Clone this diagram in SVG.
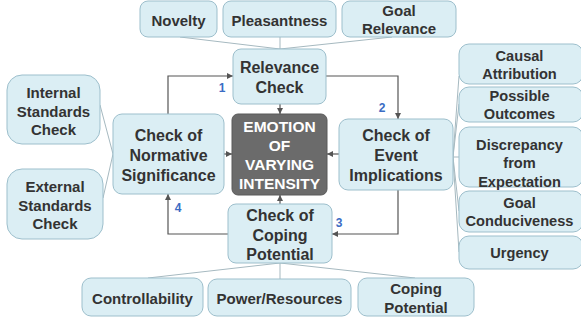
<svg xmlns="http://www.w3.org/2000/svg" width="581" height="323" viewBox="0 0 581 323">
<defs>
<style>
.n{fill:#dbeef4;stroke:#9dbfcc;stroke-width:1}
.e{fill:#6b6b6b;stroke:#5a5a5a;stroke-width:1}
.t{font-family:"Liberation Sans",Arial,sans-serif;font-weight:bold;fill:#333;text-anchor:middle;font-size:15px}
.c{font-size:16px}
.w{fill:#fff;font-size:15.5px}
.s{font-size:14.6px}
.num{font-family:"Liberation Sans",Arial,sans-serif;font-weight:bold;fill:#3b6cc4;font-size:12px;text-anchor:middle}
.a{fill:none;stroke:#555;stroke-width:1.2}
.f{fill:none;stroke:#a6b9c0;stroke-width:1}
</style>
<marker id="ah" viewBox="0 0 10 10" refX="10" refY="5" markerWidth="5" markerHeight="5" orient="auto">
<path d="M0,0 L10,5 L0,10 z" fill="#555"/>
</marker>
</defs>
<rect width="581" height="323" fill="#fff"/>
<g id="connectors">
<path class="f" d="M180,37 L280,49 M280,37 V49 M392,37 L280,49"/>
<path class="f" d="M100,105 L113,154 L103,198"/>
<path class="f" d="M453,157 L459,76 M453,157 L459,104 M453,157 L459,157 M453,157 L459,211 M453,157 L459,252"/>
<path class="f" d="M148,278 L280,263 M280,263 V279 M415,278 L280,263"/>
<path class="a" marker-end="url(#ah)" d="M168,114 V76 H233"/>
<path class="a" marker-end="url(#ah)" d="M326,76 H398 V119"/>
<path class="a" marker-end="url(#ah)" d="M280,104 V114"/>
<path class="a" marker-end="url(#ah)" d="M339,154 H327"/>
<path class="a" marker-end="url(#ah)" d="M224,154 H232"/>
<path class="a" marker-end="url(#ah)" d="M280,204 V195"/>
<path class="a" marker-end="url(#ah)" d="M398,190 V234 H332"/>
<path class="a" marker-end="url(#ah)" d="M228,234 H168 V194"/>
<text class="num" x="222" y="92">1</text>
<text class="num" x="382" y="112">2</text>
<text class="num" x="339" y="227">3</text>
<text class="num" x="178" y="212">4</text>
</g>
<g id="novelty"><rect class="n" x="140" y="1" width="77" height="36" rx="8"/><text class="t" x="178.5" y="25.5">Novelty</text></g>
<g id="pleasantness"><rect class="n" x="223" y="1" width="113" height="36" rx="8"/><text class="t" x="279.5" y="25.5">Pleasantness</text></g>
<g id="goal-relevance"><rect class="n" x="342" y="1" width="114" height="36" rx="8"/><text class="t" x="399" y="16">Goal</text><text class="t" x="399" y="34">Relevance</text></g>
<g id="relevance-check"><rect class="n" x="233" y="49" width="93" height="55" rx="8"/><text class="t c" x="279.5" y="73">Relevance</text><text class="t c" x="279.5" y="93">Check</text></g>
<g id="emotion"><rect class="e" x="232" y="114" width="95" height="81" rx="6"/><text class="t w" x="279.5" y="131.5">EMOTION</text><text class="t w" x="279.5" y="150.5">OF</text><text class="t w" x="279.5" y="169.5">VARYING</text><text class="t w" x="279.5" y="188.5">INTENSITY</text></g>
<g id="normative"><rect class="n" x="113" y="114" width="111" height="80" rx="9"/><text class="t c" x="168.5" y="141">Check of</text><text class="t c" x="168.5" y="161">Normative</text><text class="t c" x="168.5" y="181">Significance</text></g>
<g id="event"><rect class="n" x="339" y="119" width="114" height="71" rx="9"/><text class="t c" x="396" y="141">Check of</text><text class="t c" x="396" y="161">Event</text><text class="t c" x="396" y="181">Implications</text></g>
<g id="coping"><rect class="n" x="228" y="204" width="104" height="59" rx="8"/><text class="t c" x="280" y="221">Check of</text><text class="t c" x="280" y="241">Coping</text><text class="t c" x="280" y="260">Potential</text></g>
<g id="internal"><rect class="n" x="7" y="75" width="93" height="69" rx="15"/><text class="t" x="53.5" y="97.5">Internal</text><text class="t" x="53.5" y="116.5">Standards</text><text class="t" x="53.5" y="134.5">Check</text></g>
<g id="external"><rect class="n" x="7" y="169" width="96" height="70" rx="15"/><text class="t" x="55" y="191.5">External</text><text class="t" x="55" y="210.5">Standards</text><text class="t" x="55" y="228.5">Check</text></g>
<g id="causal"><rect class="n" x="459" y="44" width="124" height="40" rx="10"/><text class="t s" x="519.5" y="61">Causal</text><text class="t s" x="519.5" y="79">Attribution</text></g>
<g id="possible"><rect class="n" x="459" y="87" width="124" height="35" rx="10"/><text class="t s" x="519.5" y="101">Possible</text><text class="t s" x="519.5" y="119">Outcomes</text></g>
<g id="discrepancy"><rect class="n" x="459" y="127" width="124" height="60" rx="10"/><text class="t s" x="519.5" y="150">Discrepancy</text><text class="t s" x="519.5" y="168">from</text><text class="t s" x="519.5" y="187">Expectation</text></g>
<g id="goal-conduciveness"><rect class="n" x="459" y="191" width="124" height="41" rx="10"/><text class="t s" x="519.5" y="208">Goal</text><text class="t s" x="519.5" y="226">Conduciveness</text></g>
<g id="urgency"><rect class="n" x="459" y="236" width="124" height="33" rx="10"/><text class="t s" x="519.5" y="258">Urgency</text></g>
<g id="controllability"><rect class="n" x="82" y="278" width="121" height="38" rx="9"/><text class="t" x="142.5" y="303.5">Controllability</text></g>
<g id="power"><rect class="n" x="208" y="279" width="143" height="37" rx="9"/><text class="t" x="279.5" y="303.5">Power/Resources</text></g>
<g id="coping-potential"><rect class="n" x="358" y="278" width="116" height="38" rx="9"/><text class="t" x="416" y="293.5">Coping</text><text class="t" x="416" y="312.5">Potential</text></g>
</svg>
